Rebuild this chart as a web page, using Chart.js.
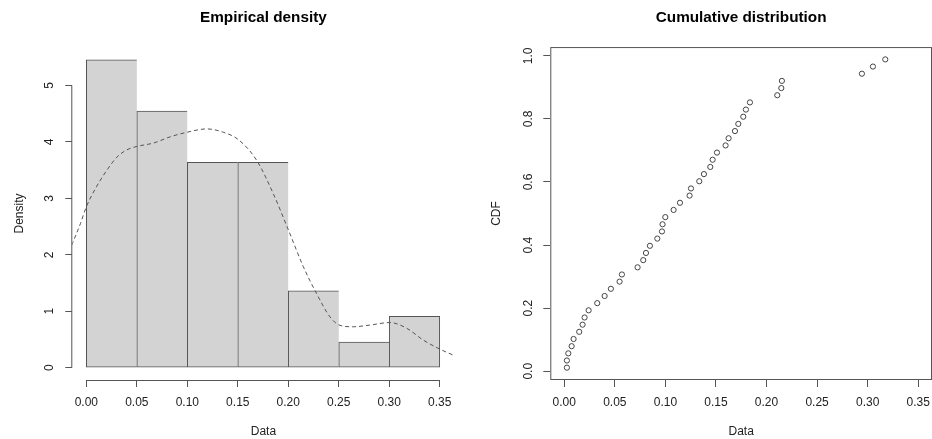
<!DOCTYPE html>
<html>
<head>
<meta charset="utf-8">
<script src="https://cdn.jsdelivr.net/npm/chart.js@4.4.1/dist/chart.umd.min.js"></script>
<style>
  body { margin: 0; background: #fff; overflow: hidden; }
  #left { position: absolute; left: 0; top: 0; }
  #right { position: absolute; left: 470px; top: 0; }
</style>
</head>
<body>
<canvas id="left" width="470" height="439"></canvas>
<canvas id="right" width="462" height="439"></canvas>
<script>
// histogram bins (width 0.05)
let binCenters = [0.025, 0.075, 0.125, 0.175, 0.225, 0.275, 0.325];
let binDensity = [5.4545, 4.5455, 3.6364, 3.6364, 1.3636, 0.4545, 0.9091];

// density curve
let densX = [-0.0145, -0.0059, 0, 0.0089, 0.0204, 0.0303, 0.0402, 0.0501, 0.0666, 0.0831, 0.0995, 0.1193,
	0.1358, 0.1506, 0.1688, 0.1852, 0.2001, 0.2149, 0.2281, 0.2413, 0.2512, 0.2643, 0.2808, 0.3006,
	0.3171, 0.3336, 0.35, 0.3649];
let densY = [2.17, 2.55, 2.85, 3.17, 3.50, 3.73, 3.86, 3.92, 3.98, 4.09, 4.17, 4.23,
	4.17, 4.04, 3.67, 3.08, 2.44, 1.79, 1.31, 0.90, 0.75, 0.725, 0.755, 0.80,
	0.70, 0.49, 0.33, 0.21];

// sorted sample and its cdf
let sample = [0.0026, 0.0026, 0.0040, 0.0073, 0.0092, 0.0148, 0.0181, 0.0201, 0.0241, 0.0326, 0.0399,
	0.0461, 0.0547, 0.0570, 0.0725, 0.0781, 0.0808, 0.0847, 0.0920, 0.0966, 0.0972, 0.0999,
	0.1081, 0.1144, 0.1239, 0.1253, 0.1335, 0.1381, 0.1444, 0.1467, 0.1510, 0.1595, 0.1625,
	0.1688, 0.1721, 0.1770, 0.1796, 0.1836, 0.2106, 0.2146, 0.2152, 0.2943, 0.3052, 0.3174];
let cdf = [0.0114, 0.0341, 0.0568, 0.0795, 0.1023, 0.1250, 0.1477, 0.1705, 0.1932, 0.2159, 0.2386,
	0.2614, 0.2841, 0.3068, 0.3295, 0.3523, 0.3750, 0.3977, 0.4205, 0.4432, 0.4659, 0.4886,
	0.5114, 0.5341, 0.5568, 0.5795, 0.6023, 0.6250, 0.6477, 0.6705, 0.6932, 0.7159, 0.7386,
	0.7614, 0.7841, 0.8068, 0.8295, 0.8523, 0.8750, 0.8977, 0.9205, 0.9432, 0.9659, 0.9886];

let xTicks = [0, 0.05, 0.1, 0.15, 0.2, 0.25, 0.3, 0.35];
let densTicks = [0, 1, 2, 3, 4, 5];
let cdfTicks = [0, 0.2, 0.4, 0.6, 0.8, 1.0];

Chart.defaults.font.family = "'Liberation Sans', Arial, sans-serif";
Chart.defaults.font.size = 12;
Chart.defaults.color = "#222";

const axisColor = "#555";

function setTicks(list){
	return function(scale){
		scale.ticks = list.map(v => ({ value: v }));
	};
}

// R style axis lines: only from first to last tick
const rAxes = {
	id: "rAxes",
	afterDraw(chart, args, opts){
		let ctx = chart.ctx;
		let area = chart.chartArea;
		ctx.save();
		ctx.strokeStyle = axisColor;
		ctx.lineWidth = 1;
		if(opts.box){
			ctx.strokeRect(area.left + 0.5, area.top + 0.5, area.right - area.left - 1, area.bottom - area.top - 1);
		} else {
			let x = chart.scales.x, y = chart.scales.y;
			ctx.beginPath();
			ctx.moveTo(x.getPixelForValue(opts.xFrom), area.bottom + 0.5);
			ctx.lineTo(x.getPixelForValue(opts.xTo), area.bottom + 0.5);
			ctx.moveTo(area.left - 0.5, y.getPixelForValue(opts.yFrom));
			ctx.lineTo(area.left - 0.5, y.getPixelForValue(opts.yTo));
			ctx.stroke();
		}
		ctx.restore();
	}
};

function xScale(min, max){
	return {
		type: "linear",
		position: "bottom",
		min: min,
		max: max,
		offset: false,
		grid: { display: true, drawOnChartArea: false, drawTicks: true, tickLength: 7, color: axisColor, offset: false },
		border: { display: false },
		ticks: { padding: 8, maxRotation: 0, minRotation: 0, autoSkip: false, callback: v => v.toFixed(2) },
		afterBuildTicks: setTicks(xTicks),
		afterFit(scale){
			scale.height = 59;
			scale.paddingLeft = 0;
			scale.paddingRight = 0;
		},
		title: { display: true, text: "Data", padding: { top: 0, bottom: 0 } }
	};
}

function yScale(min, max, list, digits, pad, width, title, titlePad){
	return {
		type: "linear",
		position: "left",
		min: min,
		max: max,
		grid: { display: true, drawOnChartArea: false, drawTicks: true, tickLength: 7, color: axisColor },
		border: { display: false },
		ticks: { padding: pad, minRotation: 90, maxRotation: 90, crossAlign: "center", autoSkip: false, callback: v => v.toFixed(digits) },
		afterBuildTicks: setTicks(list),
		afterFit(scale){
			scale.width = width;
			scale.paddingTop = 0;
			scale.paddingBottom = 0;
		},
		title: { display: true, text: title, padding: { top: titlePad, bottom: 0 } }
	};
}

function titleOpts(text){
	return {
		display: true,
		text: text,
		fullSize: false,
		color: "#000",
		font: { size: 15.3, weight: "bold" },
		padding: { top: 8.5, bottom: 20.2 }
	};
}

new Chart("left", {
	type: "bar",
	data: {
		datasets: [{
			type: "bar",
			data: binCenters.map((c, i) => ({ x: c, y: binDensity[i] })),
			backgroundColor: "#d3d3d3",
			borderColor: axisColor,
			borderWidth: ctx => ({ left: 1, top: 1, bottom: 1, right: ctx.dataIndex === binCenters.length - 1 ? 1 : 0 }),
			borderSkipped: false,
			barPercentage: 1,
			categoryPercentage: 1,
			order: 2
		},
		{
			type: "line",
			data: densX.map((x, i) => ({ x: x, y: densY[i] })),
			borderColor: "#555",
			borderWidth: 1,
			borderDash: [4, 3],
			pointRadius: 0,
			cubicInterpolationMode: "monotone",
			fill: false,
			order: 1
		}]
	},
	options: {
		responsive: false,
		animation: false,
		layout: { autoPadding: false, padding: { left: 0, right: 15.5, top: 0, bottom: 0 } },
		plugins: {
			legend: { display: false },
			tooltip: { enabled: false },
			title: titleOpts("Empirical density"),
			rAxes: { xFrom: 0, xTo: 0.35, yFrom: 0, yTo: 5 }
		},
		scales: {
			x: xScale(-0.0139, 0.3646),
			y: yScale(-0.218, 5.68, densTicks, 0, 12, 72.3, "Density", 12)
		}
	},
	plugins: [rAxes]
});

new Chart("right", {
	type: "scatter",
	data: {
		datasets: [{
			data: sample.map((x, i) => ({ x: x, y: cdf[i] })),
			pointStyle: "circle",
			pointRadius: 2.6,
			pointBorderWidth: 1,
			pointBorderColor: "#444",
			pointBackgroundColor: "rgba(0,0,0,0)"
		}]
	},
	options: {
		responsive: false,
		animation: false,
		layout: { autoPadding: false, padding: { left: 0, right: 0, top: 0, bottom: 0 } },
		plugins: {
			legend: { display: false },
			tooltip: { enabled: false },
			title: titleOpts("Cumulative distribution"),
			rAxes: { box: true }
		},
		scales: {
			x: xScale(-0.0138, 0.3636),
			y: yScale(-0.0277, 1.0277, cdfTicks, 1, 6.7, 80.3, "CDF", 19.5)
		}
	},
	plugins: [rAxes]
});
</script>
</body>
</html>
